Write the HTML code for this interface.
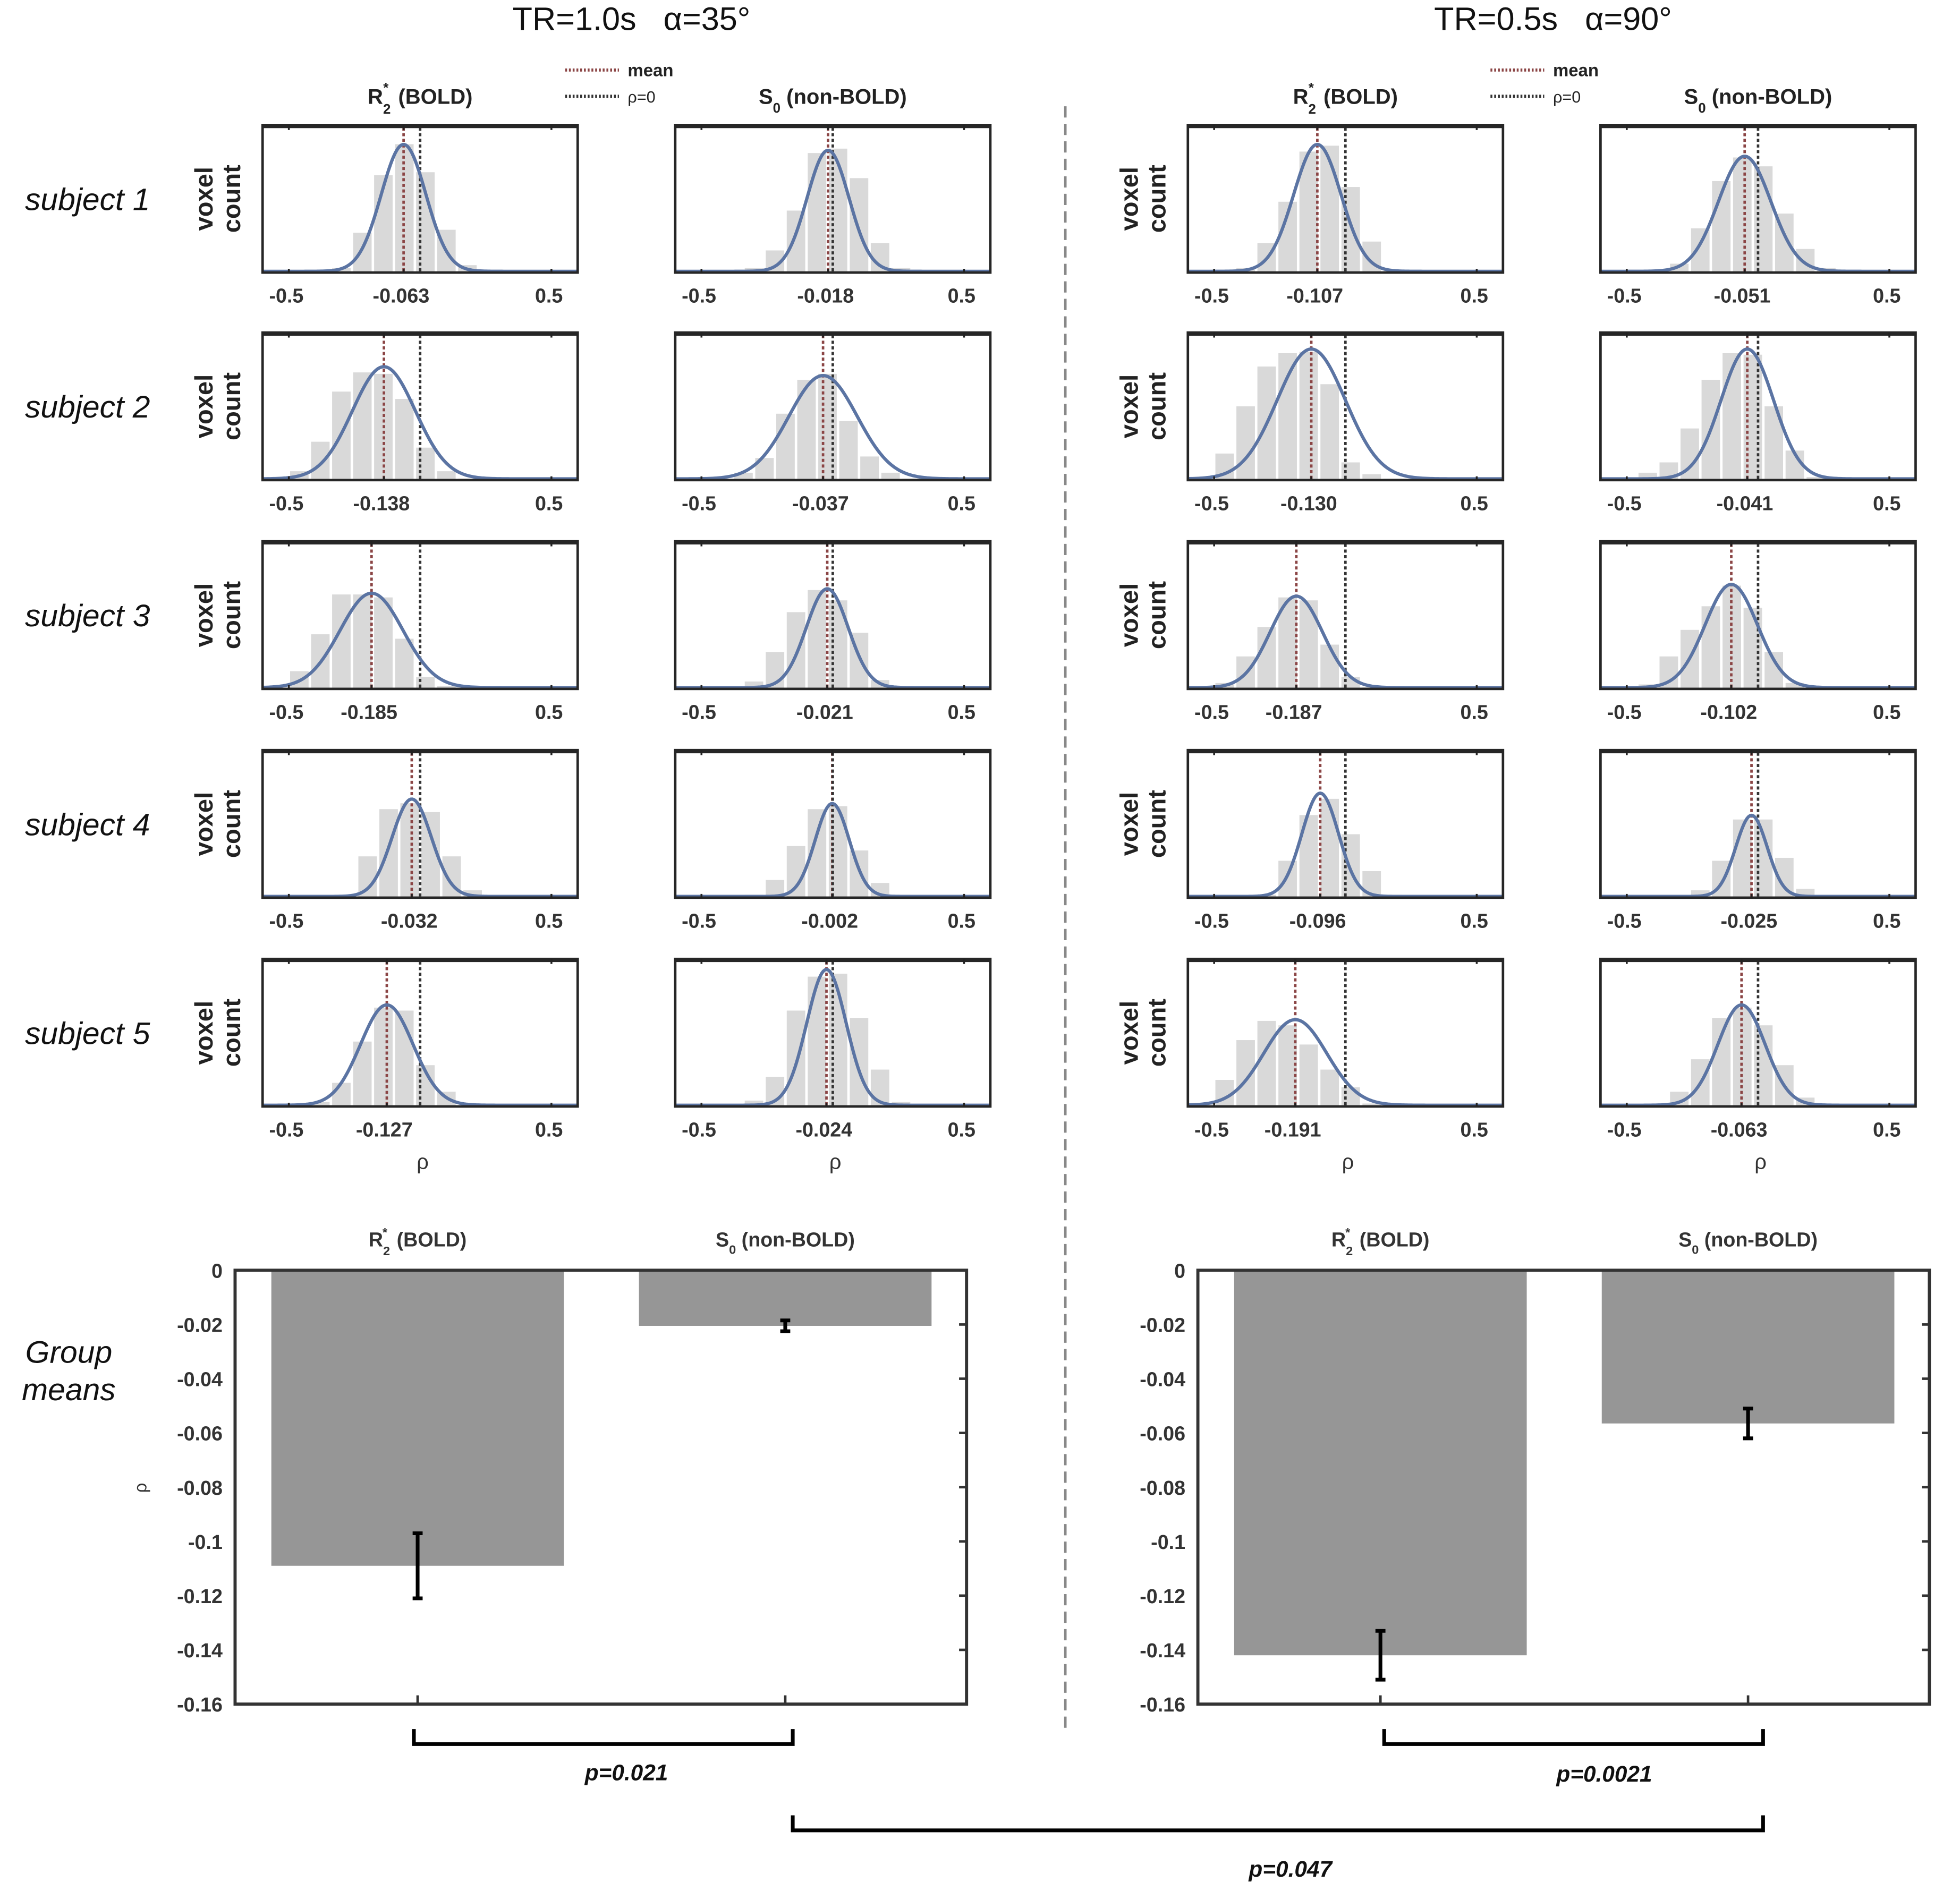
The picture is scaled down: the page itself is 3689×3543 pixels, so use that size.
<!DOCTYPE html>
<html><head><meta charset="utf-8">
<style>
html,body{margin:0;padding:0;background:#fff;}
svg{display:block;font-family:"Liberation Sans",sans-serif;}
</style></head>
<body>
<svg id="fig" width="3689" height="3543" viewBox="0 0 1567.5 1505.3" preserveAspectRatio="none" xmlns="http://www.w3.org/2000/svg">
<rect width="1567.5" height="1505.3" fill="#fff"/>
<text x="505" y="24" font-size="26" text-anchor="middle" fill="#111">TR=1.0s&#160;&#160;&#160;α=35°</text>
<text x="1242" y="24" font-size="26" text-anchor="middle" fill="#111">TR=0.5s&#160;&#160;&#160;α=90°</text>
<line x1="852" y1="85" x2="852" y2="1383" stroke="#888" stroke-width="2" stroke-dasharray="9,5"/>
<g id="hists"></g>
<g id="bars"></g>
</svg>
<script>
// histogram data (per panel: column index 0-3, row 0-4)
const histMeans = [
 [-0.063,-0.138,-0.185,-0.032,-0.127],
 [-0.018,-0.037,-0.021,-0.002,-0.024],
 [-0.107,-0.130,-0.187,-0.096,-0.191],
 [-0.051,-0.041,-0.102,-0.025,-0.063]];
const histSd = [
 [0.085,0.12,0.12,0.075,0.10],
 [0.08,0.13,0.08,0.065,0.075],
 [0.09,0.13,0.10,0.07,0.12],
 [0.10,0.10,0.10,0.06,0.09]];
const histPeak = [
 [0.86,0.76,0.64,0.66,0.68],
 [0.82,0.70,0.67,0.63,0.92],
 [0.86,0.88,0.62,0.70,0.58],
 [0.78,0.88,0.70,0.55,0.68]];
const histStart = [
 [-0.34,-0.5,-0.5,-0.32,-0.42],
 [-0.34,-0.38,-0.34,-0.34,-0.34],
 [-0.42,-0.5,-0.5,-0.34,-0.58],
 [-0.34,-0.46,-0.46,-0.26,-0.42]];
const histBars = [
 [[0.03,0.27,0.66,0.87,0.68,0.29,0.05],
  [0.06,0.26,0.6,0.73,0.72,0.55,0.22,0.06,0.01],
  [0.12,0.37,0.64,0.64,0.62,0.34,0.08,0.02],
  [0.02,0.28,0.6,0.64,0.58,0.28,0.05],
  [0.03,0.16,0.44,0.67,0.65,0.28,0.1,0.01]],
 [[0.03,0.15,0.42,0.81,0.84,0.64,0.2,0.03],
  [0.05,0.15,0.45,0.68,0.72,0.4,0.16,0.05,0.01],
  [0.05,0.25,0.52,0.67,0.6,0.38,0.06],
  [0.02,0.12,0.35,0.6,0.62,0.32,0.1,0.02],
  [0.04,0.2,0.65,0.88,0.9,0.6,0.25,0.03]],
 [[0.03,0.2,0.48,0.82,0.86,0.58,0.21,0.02],
  [0.18,0.5,0.77,0.86,0.87,0.65,0.12,0.04,0.01],
  [0.04,0.22,0.42,0.62,0.6,0.3,0.08,0.01],
  [0.02,0.25,0.56,0.67,0.43,0.18,0.02],
  [0.02,0.18,0.45,0.58,0.55,0.42,0.25,0.13,0.02]],
 [[0.06,0.3,0.62,0.78,0.72,0.4,0.16,0.03],
  [0.05,0.12,0.35,0.68,0.86,0.85,0.5,0.2,0.02],
  [0.03,0.22,0.4,0.56,0.7,0.55,0.25,0.04],
  [0.05,0.25,0.53,0.53,0.27,0.06],
  [0.02,0.1,0.32,0.6,0.67,0.55,0.28,0.06]]];
const binWidth = 0.08;
const xTicks = [-0.5, 0.5];
const subjects = ["subject 1","subject 2","subject 3","subject 4","subject 5"];
// group mean bar data
const barCats = ["R2* (BOLD)","S0 (non-BOLD)"];
const barLeftVals = [-0.109,-0.0205];
const barLeftErr = [0.012,0.002];
const barRightVals = [-0.142,-0.0565];
const barRightErr = [0.009,0.0055];
const yTicks = [0,-0.02,-0.04,-0.06,-0.08,-0.1,-0.12,-0.14,-0.16];
const pLabels = ["p=0.021","p=0.0021","p=0.047"];

const NS="http://www.w3.org/2000/svg";
function mk(tag, attrs, parent, txt){const e=document.createElementNS(NS,tag);for(const k in attrs)e.setAttribute(k,attrs[k]);if(txt!==undefined)e.textContent=txt;parent.appendChild(e);return e;}
const H=document.getElementById('hists');
const colX=[210,540,950,1280], rowY=[100,266,433,600,767], PW=252, PH=118;
function fmt(v){return v.toFixed(3).replace(/^(-?)0\./,'$10.');}

[[0,1],[2,3]].forEach((pair,gi)=>{
  pair.forEach((c,k)=>{
    const cx=colX[c]+PW/2;
    const t=mk('text',{x:cx,y:83,'font-size':17,'font-weight':'bold','text-anchor':'middle',fill:'#222'},H);
    
    
    if(k===0){t.innerHTML='R<tspan font-size="11" dy="8">2</tspan><tspan font-size="11" dy="-17" dx="-6">*</tspan><tspan dy="9" dx="3"> (BOLD)</tspan>';}
    else{t.innerHTML='S<tspan font-size="11" dy="7">0</tspan><tspan dy="-7"> (non-BOLD)</tspan>';}
  });
  const lx=colX[pair[0]]+242;
  const l1=mk('line',{x1:lx,y1:56,x2:lx+43,y2:56,stroke:'#8b4545','stroke-width':2.5,'stroke-dasharray':'1.5,1.5'},H);
  
  
  const t1=mk('text',{x:lx+50,y:61,'font-size':14,'font-weight':'bold',fill:'#222'},H,'mean');
  
  
  const l2=mk('line',{x1:lx,y1:77,x2:lx+43,y2:77,stroke:'#333','stroke-width':2.5,'stroke-dasharray':'1.5,1.5'},H);
  
  
  const t2=mk('text',{x:lx+50,y:82,'font-size':13,fill:'#222'},H,'ρ=0');
  
  
});

subjects.forEach((s,r)=>{
  const t=mk('text',{x:70,y:rowY[r]+PH/2+9,'font-size':25,'font-style':'italic','text-anchor':'middle',fill:'#111'},H,s);
  
  
});

for(let c=0;c<4;c++){
  for(let r=0;r<5;r++){
    const x0=colX[c], y0=rowY[r], yb=y0+PH;
    const g=mk('g',{},H);
    
    
    const xs=v=>x0+PW*(v+0.6)/1.2;
    const ys=f=>yb-f*PH;
    if(c===0||c===2){
      const vx=x0-40;
      const vt=mk('text',{x:0,y:0,'font-size':20,'font-weight':'bold','text-anchor':'middle',fill:'#222',transform:`translate(${vx},${y0+PH/2}) rotate(-90)`},g);
      vt.innerHTML='<tspan x="0" dy="0">voxel</tspan><tspan x="0" dy="22">count</tspan>';
      
      
    }
    histBars[c][r].forEach((h,i)=>{
      const a=histStart[c][r]+i*binWidth;
      let xa=Math.max(xs(a),x0), xb=Math.min(xs(a+binWidth),x0+PW);
      const b=mk('rect',{x:xa+1,y:ys(h),width:Math.max(0,xb-xa-2),height:h*PH,fill:'#d9d9d9'},g);
      
      
    });
    const ml=mk('line',{x1:xs(histMeans[c][r]),y1:y0+2,x2:xs(histMeans[c][r]),y2:yb,stroke:'#8b4545','stroke-width':2,'stroke-dasharray':'2.5,2'},g);
    
    
    const zl=mk('line',{x1:xs(0),y1:y0+2,x2:xs(0),y2:yb,stroke:'#333','stroke-width':2,'stroke-dasharray':'2.5,2'},g);
    
    
    const m=histMeans[c][r], sd=histSd[c][r], p=histPeak[c][r];
    let d='';
    for(let i=0;i<=200;i++){const v=-0.6+1.2*i/200;const f=p*Math.exp(-0.5*((v-m)/sd)**2);d+=(i?'L':'M')+xs(v).toFixed(2)+','+(ys(f)-1).toFixed(2);}
    const cv=mk('path',{d:d,fill:'none',stroke:'#5b74a3','stroke-width':2.6},g);
    
    
    const fr=mk('rect',{x:x0,y:y0,width:PW,height:PH,fill:'none',stroke:'#262626','stroke-width':2},g);
    
    
    mk('line',{x1:x0,y1:y0+1,x2:x0+PW,y2:y0+1,stroke:'#262626','stroke-width':3},g);
    xTicks.concat([m]).forEach(v=>{
      mk('line',{x1:xs(v),y1:yb,x2:xs(v),y2:yb-3,stroke:'#222','stroke-width':1.5},g);
      mk('line',{x1:xs(v),y1:y0,x2:xs(v),y2:y0+4,stroke:'#222','stroke-width':1.5},g);
    });
    const tl=[[xTicks[0],'-0.5'],[xTicks[1],'0.5'],[m,fmt(m)]];
    tl.forEach(([v,s])=>{
      const t=mk('text',{x:xs(v)-2,y:yb+24,'font-size':16,'font-weight':'bold','text-anchor':'middle',fill:'#333'},g,s);
      
      
    });
    if(r===4){
      const t=mk('text',{x:x0+PW/2+2,y:yb+50,'font-size':17,'text-anchor':'middle',fill:'#333'},g,'ρ');
      
      
    }
  }
}

const B=document.getElementById('bars');
const gm=mk('text',{x:55,y:1090,'font-size':25,'font-style':'italic','text-anchor':'middle',fill:'#111'},B,'');
gm.innerHTML='<tspan x="55" dy="0">Group</tspan><tspan x="55" dy="30">means</tspan>';


function barChart(bx, vals, errs, name){
  const g=mk('g',{},B);
  
  
  const top=1016, bot=1363, W=585;
  const ys=v=>top+(bot-top)*(v/-0.16);
  const cx=[bx+146,bx+440];
  vals.forEach((v,i)=>{
    const b=mk('rect',{x:cx[i]-117,y:top,width:234,height:ys(v)-top,fill:'#969696'},g);
    
    
    const e=errs[i];
    const eb=mk('path',{d:`M${cx[i]},${ys(v+e)}V${ys(v-e)}M${cx[i]-4},${ys(v+e)}H${cx[i]+4}M${cx[i]-4},${ys(v-e)}H${cx[i]+4}`,stroke:'#000','stroke-width':3,fill:'none'},g);
    
    
    mk('line',{x1:cx[i],y1:bot,x2:cx[i],y2:bot-7,stroke:'#333','stroke-width':2},g);
    const h=mk('text',{x:cx[i],y:997,'font-size':16,'font-weight':'bold','text-anchor':'middle',fill:'#333'},g);
    
    
    if(i===0)h.innerHTML='R<tspan font-size="10" dy="7">2</tspan><tspan font-size="10" dy="-15" dx="-6">*</tspan><tspan dy="8" dx="3"> (BOLD)</tspan>';
    else h.innerHTML='S<tspan font-size="10" dy="6">0</tspan><tspan dy="-6"> (non-BOLD)</tspan>';
  });
  const fr=mk('rect',{x:bx,y:top,width:W,height:bot-top,fill:'none',stroke:'#333','stroke-width':2.5},g);
  
  
  yTicks.forEach(v=>{
    mk('line',{x1:bx+W,y1:ys(v),x2:bx+W-6,y2:ys(v),stroke:'#333','stroke-width':2},g);
    const t=mk('text',{x:bx-10,y:ys(v)+6,'font-size':16,'font-weight':'bold','text-anchor':'end',fill:'#333'},g,v===0?'0':v.toString());
    
    
  });
}
barChart(188,barLeftVals,barLeftErr,'group-bar-chart-left');
barChart(958,barRightVals,barRightErr,'group-bar-chart-right');
const rl=mk('text',{x:0,y:0,'font-size':14,'text-anchor':'middle',fill:'#333',transform:'translate(117,1190) rotate(-90)'},B,'ρ');



function bracket(x1,x2,yTop,yB,label,lx,ly,name){
  const p=mk('path',{d:`M${x1},${yTop}V${yB}H${x2}V${yTop}`,stroke:'#000','stroke-width':3,fill:'none'},B);
  
  
  const t=mk('text',{x:lx,y:ly,'font-size':18,'font-weight':'bold','font-style':'italic','text-anchor':'middle',fill:'#111'},B,label);
  
  
}
bracket(331,634,1383,1395,pLabels[0],501,1424,'bracket-left');
bracket(1107,1410,1383,1395,pLabels[1],1283,1425,'bracket-right');
bracket(634,1410,1452,1464,pLabels[2],1032,1501,'bracket-between');
</script>
</body></html>
